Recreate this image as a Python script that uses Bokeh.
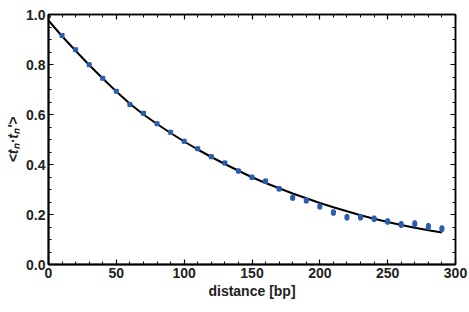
from bokeh.plotting import figure
from bokeh.models import (Range1d, FixedTicker, LinearAxis, PrintfTickFormatter,
                          ColumnDataSource, CustomJSTickFormatter)
from bokeh.embed import file_html
from bokeh.resources import INLINE

# data points (distance in bp, correlation, error)
distance = [0, 10, 20, 30, 40, 50, 60, 70, 80, 90, 100, 110, 120, 130, 140,
            150, 160, 170, 180, 190, 200, 210, 220, 230, 240, 250, 260, 270, 280, 290]
corr = [0.995, 0.916, 0.859, 0.799, 0.745, 0.693, 0.640, 0.605, 0.563, 0.529,
        0.493, 0.463, 0.431, 0.406, 0.374, 0.349, 0.333, 0.303, 0.267, 0.256,
        0.232, 0.208, 0.189, 0.189, 0.183, 0.172, 0.160, 0.163, 0.152, 0.143]
err = [0.004, 0.005, 0.005, 0.005, 0.006, 0.006, 0.007, 0.007, 0.007, 0.008,
       0.008, 0.008, 0.009, 0.009, 0.010, 0.010, 0.011, 0.011, 0.012, 0.012,
       0.012, 0.013, 0.013, 0.013, 0.013, 0.013, 0.014, 0.014, 0.014, 0.014]

# fitted curve values
fit_x = [0, 10, 20, 30, 40, 50, 60, 70, 80, 90, 100, 110, 120, 130, 140,
         150, 160, 170, 180, 190, 200, 210, 220, 230, 240, 250, 260, 270, 280, 290]
fit_y = [0.976, 0.913, 0.855, 0.798, 0.744, 0.692, 0.643, 0.600, 0.562, 0.526,
         0.492, 0.460, 0.430, 0.402, 0.375, 0.349, 0.326, 0.305, 0.284, 0.265,
         0.246, 0.229, 0.213, 0.197, 0.183, 0.170, 0.158, 0.147, 0.137, 0.128]

x_ticks = [0, 50, 100, 150, 200, 250, 300]
x_minor = list(range(0, 301, 10))
y_ticks = [0.0, 0.2, 0.4, 0.6, 0.8, 1.0]
y_minor = [i * 0.05 for i in range(21)]

p = figure(width=469, height=312, output_backend="svg", toolbar_location=None,
           x_range=Range1d(0, 300), y_range=Range1d(0, 1.0),
           min_border_left=48, min_border_right=14, min_border_top=14, min_border_bottom=48)
p.xgrid.visible = False
p.ygrid.visible = False
p.outline_line_color = "black"
p.outline_line_width = 1.5
p.background_fill_color = "white"
p.border_fill_color = "white"

font = "Liberation Sans"

def style_axis(ax, show_labels):
    ax.axis_line_color = "black"
    ax.axis_line_width = 2 if show_labels else 1.5
    ax.major_tick_in = 5
    ax.major_tick_out = 0
    ax.minor_tick_in = 3
    ax.minor_tick_out = 0
    ax.major_tick_line_color = "black"
    ax.minor_tick_line_color = "black"
    ax.major_tick_line_width = 1.2
    ax.minor_tick_line_width = 1
    if show_labels:
        ax.major_label_text_font = font
        ax.major_label_text_font_style = "bold"
        ax.major_label_text_font_size = "14px"
        ax.major_label_text_color = "#222222"
        ax.axis_label_text_font = font
        ax.axis_label_text_font_style = "bold"
        ax.axis_label_text_font_size = "14px"
        ax.axis_label_text_color = "#222222"
    else:
        ax.formatter = CustomJSTickFormatter(code="return ''")
        ax.major_label_standoff = 0

xa = p.xaxis[0]
xa.ticker = FixedTicker(ticks=x_ticks, minor_ticks=x_minor)
xa.axis_label = "distance [bp]"
xa.axis_label_standoff = 2
xa.major_label_standoff = 3
style_axis(xa, True)

ya = p.yaxis[0]
ya.ticker = FixedTicker(ticks=y_ticks, minor_ticks=y_minor)
ya.formatter = PrintfTickFormatter(format="%.1f")
ya.axis_label = "<tₙ·tₙ′>"
ya.axis_label_standoff = 2
ya.major_label_standoff = 3
style_axis(ya, True)
ya.axis_label_text_font_style = "bold italic"

top = LinearAxis(ticker=FixedTicker(ticks=x_ticks, minor_ticks=x_minor))
style_axis(top, False)
p.add_layout(top, "above")
right = LinearAxis(ticker=FixedTicker(ticks=y_ticks, minor_ticks=y_minor))
style_axis(right, False)
p.add_layout(right, "right")

src = ColumnDataSource(dict(
    x=distance, y=corr,
    lo=[c - e for c, e in zip(corr, err)],
    hi=[c + e for c, e in zip(corr, err)],
))

p.line(fit_x, fit_y, line_color="black", line_width=2)
p.segment(x0="x", y0="lo", x1="x", y1="hi", source=src, line_color="#2a5db0", line_width=3)
p.scatter(x="x", y="y", source=src, marker="square", size=4,
          fill_color="#2a5db0", line_color="#2a5db0")

open("out.html", "w").write(file_html(p, INLINE))
